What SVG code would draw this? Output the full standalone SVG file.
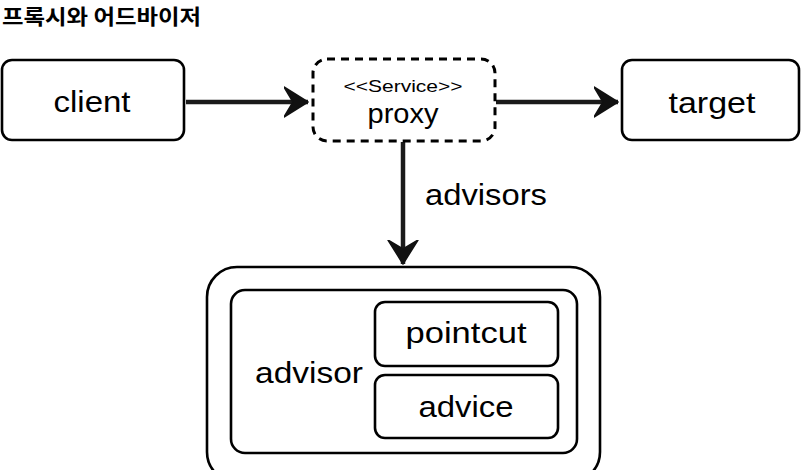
<svg xmlns="http://www.w3.org/2000/svg" width="801" height="470" viewBox="0 0 801 470">
<defs>
<marker id="ah" markerUnits="userSpaceOnUse" markerWidth="26" markerHeight="32" refX="24" refY="16" orient="auto" viewBox="0 0 26 32">
<path d="M0,1 L24,16 L0,31 L9,16 Z" fill="#111" stroke="#111" stroke-width="1.5" stroke-linejoin="round"/>
</marker>
<style>
.box{fill:#fff;stroke:#000;stroke-width:2.6}
.dash{fill:#fff;stroke:#000;stroke-width:3;stroke-dasharray:8 6}
.lbl{font-family:"Liberation Sans",Arial,Helvetica,sans-serif;fill:#000;text-anchor:middle}
.big{font-size:30px}
.conn{stroke:#1a1a1a;stroke-width:4.5;fill:none;marker-end:url(#ah)}
.title{font-family:"Noto Sans CJK KR","Noto Sans",sans-serif;font-weight:bold;font-size:21px;fill:#000}
</style>
</defs>
<rect width="801" height="470" fill="#fff"/>
<text class="title" x="2" y="24" textLength="199" lengthAdjust="spacingAndGlyphs">프록시와 어드바이저</text>

<g id="connectors">
<line class="conn" x1="186" y1="102" x2="308" y2="102"/>
<line class="conn" x1="496" y1="102" x2="618" y2="102"/>
<line class="conn" x1="403" y1="142" x2="403" y2="264"/>
<text class="lbl big" x="486" y="205" textLength="122" lengthAdjust="spacingAndGlyphs">advisors</text>
</g>

<g id="client">
<rect class="box" x="2" y="60" width="182" height="80" rx="10"/>
<text class="lbl big" x="92" y="112" textLength="77" lengthAdjust="spacingAndGlyphs">client</text>
</g>

<g id="proxy">
<rect class="dash" x="313" y="59" width="182" height="82" rx="14"/>
<text class="lbl" x="403" y="92" font-size="17" textLength="119" lengthAdjust="spacingAndGlyphs">&lt;&lt;Service&gt;&gt;</text>
<text class="lbl" x="403" y="123" font-size="27" textLength="71" lengthAdjust="spacingAndGlyphs">proxy</text>
</g>

<g id="target">
<rect class="box" x="622" y="60" width="177" height="80" rx="10"/>
<text class="lbl big" x="712" y="113" textLength="87" lengthAdjust="spacingAndGlyphs">target</text>
</g>

<g id="advisors-container">
<rect class="box" x="207" y="267" width="393" height="215" rx="30"/>
</g>

<g id="advisor">
<rect class="box" x="231" y="290" width="346" height="163" rx="14"/>
<text class="lbl big" x="309" y="383" textLength="108" lengthAdjust="spacingAndGlyphs">advisor</text>
</g>

<g id="pointcut">
<rect class="box" x="375" y="302" width="183" height="64" rx="10"/>
<text class="lbl big" x="466" y="343" textLength="121" lengthAdjust="spacingAndGlyphs">pointcut</text>
</g>

<g id="advice">
<rect class="box" x="375" y="375" width="183" height="63" rx="10"/>
<text class="lbl big" x="466" y="417" textLength="95" lengthAdjust="spacingAndGlyphs">advice</text>
</g>
</svg>
